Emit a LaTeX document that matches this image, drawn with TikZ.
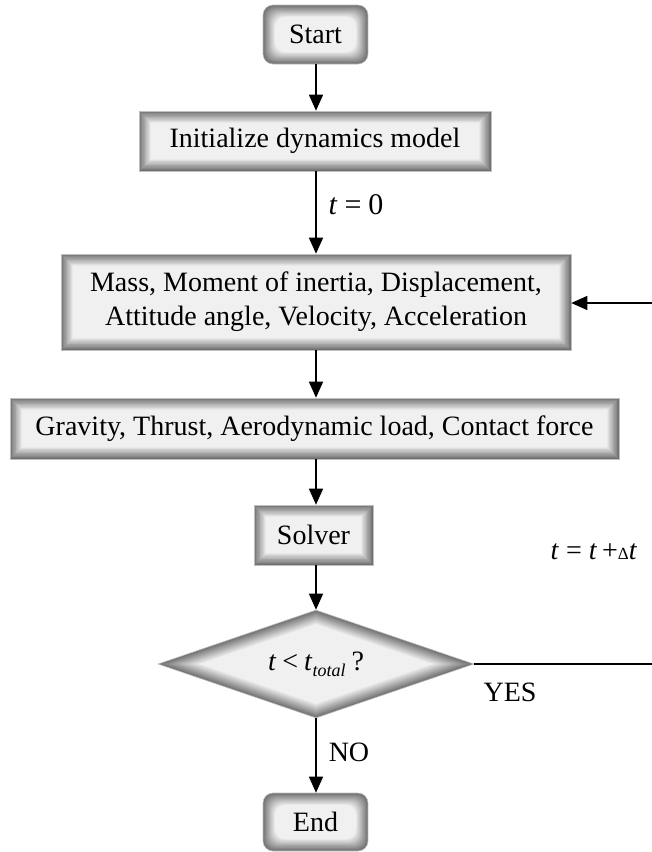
\documentclass[tikz,border=0pt]{standalone}
\usepackage{fontspec}
\setmainfont{Liberation Serif}
\usetikzlibrary{shapes.geometric,arrows.meta,calc}
\tikzset{
  every node/.style={font=\fontsize{28}{34}\selectfont},
  sbox/.style={rectangle, inner sep=0pt, draw=gray!50, line width=0.6pt, align=center,
    path picture={
      \foreach \i in {0,...,15}{
        \pgfmathtruncatemacro\c{56-\i*3.3}
        \fill[black!\c!white] ([shift={(\i*0.8pt,-\i*0.8pt)}]path picture bounding box.north west) rectangle ([shift={(-\i*0.8pt,\i*0.8pt)}]path picture bounding box.south east);
      }
    }},
  rbox/.style={rectangle, rounded corners=10pt, inner sep=0pt, draw=gray!50, line width=0.6pt,
    path picture={
      \foreach \i in {0,...,15}{
        \pgfmathtruncatemacro\c{56-\i*3.3}
        \fill[black!\c!white, rounded corners=10pt] ([shift={(\i*0.8pt,-\i*0.8pt)}]path picture bounding box.north west) rectangle ([shift={(-\i*0.8pt,\i*0.8pt)}]path picture bounding box.south east);
      }
    }},
  dia/.style={diamond, aspect=3, inner sep=0pt, minimum width=316pt, minimum height=108pt, draw=gray!50, line width=0.6pt,
    path picture={
      \foreach \i in {0,...,15}{
        \pgfmathtruncatemacro\c{56-\i*3.3}
        \fill[black!\c!white]
          ([shift={(158pt-\i*2.8pt,0pt)}]path picture bounding box.center) --
          ([shift={(0pt,54pt-\i*0.95pt)}]path picture bounding box.center) --
          ([shift={(-158pt+\i*2.8pt,0pt)}]path picture bounding box.center) --
          ([shift={(0pt,-54pt+\i*0.95pt)}]path picture bounding box.center) -- cycle;
      }
    }},
  arr/.style={line width=1.4pt, -{Triangle[length=16pt,width=14pt]}},
  ln/.style={line width=1.4pt},
  lbl/.style={inner sep=0pt}
}
\begin{document}
\begin{tikzpicture}[x=1pt,y=-1pt]
\useasboundingbox (0,0) rectangle (652,852);

\node[rbox, minimum width=105pt, minimum height=59pt] (start) at (315.5,34.5) {Start};
\node[sbox, minimum width=352pt, minimum height=60pt] (init) at (315,141) {Initialize dynamics model};
\node[sbox, minimum width=510pt, minimum height=96pt] (mass) at (316,302) {Mass, Moment of inertia, Displacement,\\Attitude angle, Velocity, Acceleration};
\node[sbox, minimum width=609pt, minimum height=61pt] (grav) at (314.5,428.5) {Gravity, Thrust, Aerodynamic load, Contact force};
\node[sbox, minimum width=119pt, minimum height=60pt] (solver) at (313.5,535) {Solver};
\node[dia] (dec) at (316,664) {\textit{t}\kern6pt<\kern6pt\textit{t}\raisebox{-6pt}{\fontsize{18}{18}\selectfont\textit{total}}\kern6pt?};
\node[rbox, minimum width=105pt, minimum height=58pt] (end) at (315.5,822) {End};

\coordinate (rin) at (652,303);
\coordinate (rout) at (652,664);

\draw[arr] (start.south -| 316,0) -- (init.north -| 316,0);
\draw[arr] (init.south -| 316,0) -- (mass.north -| 316,0);
\draw[arr] (mass.south -| 316,0) -- (grav.north -| 316,0);
\draw[arr] (grav.south -| 316,0) -- (solver.north -| 316,0);
\draw[arr] (solver.south -| 316,0) -- (dec.north);
\draw[arr] (dec.south) -- (end.north -| 316,0);
\draw[arr] (rin) -- (rin -| mass.east);
\draw[ln] (dec.east) -- (rout);

\node[lbl] (t0) at (356,205) {\fontsize{30}{30}\selectfont\textit{t}\kern7pt=\kern7pt0};
\node[lbl] (yes) at (510,692) {YES};
\node[lbl] (no) at (349,752) {NO};
\node[lbl] (tinc) at (594,552) {\textit{t}\kern7pt=\kern7pt\textit{t}\kern5pt+{\fontsize{17}{17}\selectfont Δ}\textit{t}};
\end{tikzpicture}
\end{document}
